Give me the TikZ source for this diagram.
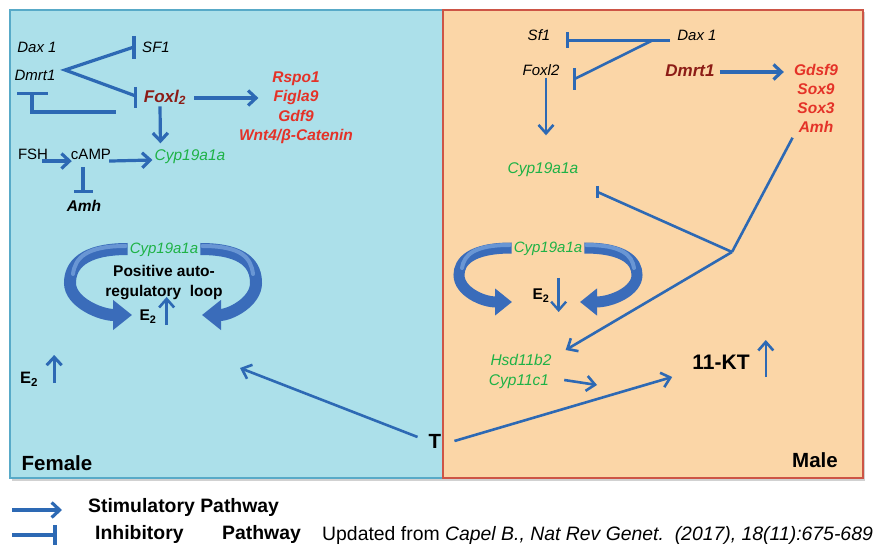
\documentclass[tikz,border=0pt]{standalone}
\usepackage{fontspec}
\setmainfont{Liberation Sans}
\usetikzlibrary{arrows.meta,calc}

\definecolor{femfill}{RGB}{172,224,234}
\definecolor{femline}{RGB}{88,170,200}
\definecolor{malefill}{RGB}{251,214,167}
\definecolor{maleline}{RGB}{205,85,70}
\definecolor{pathblue}{RGB}{45,105,180}
\definecolor{ribboncol}{RGB}{58,108,186}
\definecolor{ribbonlite}{RGB}{105,150,212}
\definecolor{genegreen}{RGB}{30,178,70}
\definecolor{hotred}{RGB}{228,50,40}
\definecolor{deepred}{RGB}{140,28,22}

\begin{document}
\begin{tikzpicture}[x=1pt,y=-1pt,
  every node/.style={inner sep=0pt, text depth=0pt},
  it/.style={font=\fontsize{15}{18}\selectfont\itshape, text height=10.7pt},
  rm/.style={font=\fontsize{15}{18}\selectfont, text height=10.7pt},
  grn/.style={font=\fontsize{15.5}{18}\selectfont\itshape, text=genegreen, text height=11pt},
  hot/.style={font=\fontsize{15.5}{18}\selectfont\bfseries\itshape, text=hotred, text height=11pt},
  deep/.style={font=\fontsize{17}{20}\selectfont\bfseries\itshape, text=deepred, text height=12.2pt},
  bb/.style={font=\fontsize{15.5}{20}\selectfont\bfseries, text height=11pt},
  big/.style={font=\fontsize{20.5}{24}\selectfont\bfseries, text height=14.7pt},
  leg/.style={font=\fontsize{19.4}{22}\selectfont, text height=13.9pt, anchor=west},
  stim/.style={draw=pathblue, line width=3.2pt, -{Straight Barb[length=8pt,width=15pt]}},
  thin/.style={draw=pathblue, line width=2.6pt, -{Straight Barb[length=8.5pt,width=15pt]}},
  plain/.style={draw=pathblue, line width=3.2pt},
  plainthin/.style={draw=pathblue, line width=2.6pt},
  ribbon/.style={draw=ribboncol, line width=12pt, -{Triangle[length=19pt,width=29pt]}},
  ribbonm/.style={draw=ribboncol, line width=11pt, -{Triangle[length=17pt,width=26pt]}},
  sheen/.style={draw=ribbonlite, line width=4pt, line cap=round},
]
\useasboundingbox (0,0) rectangle (878,545);

% panels
\fill[black!18] (12,12) rectangle (865,481);
\path[draw=femline, fill=femfill, line width=1.4pt] (10,10) rectangle (443,478);
\path[draw=maleline, fill=malefill, line width=1.4pt] (443,10) rectangle (863,478);

% ---------------- female side ----------------
\node[it] (dax1f) at (37,47) {Dax 1};
\node[it] (sf1f) at (156,47) {SF1};
\node[it] (dmrt1f) at (35,75) {Dmrt1};
\node[deep] (foxl) at (165,96) {Foxl\textsubscript{2}};
\node[hot] (rspo) at (296,77) {Rspo1};
\node[hot] (figla) at (296,96) {Figla9};
\node[hot] (gdf) at (296,116) {Gdf9};
\node[hot] (wnt) at (296,135) {Wnt4/β-Catenin};
\node[rm] (fsh) at (33,154) {FSH};
\node[rm] (camp) at (91,154) {cAMP};
\node[grn] (cypf) at (190,155) {Cyp19a1a};
\node[bb, font=\fontsize{15.5}{18}\selectfont\bfseries\itshape] (amhf) at (84,206) {Amh};

% Dmrt1 inhibits SF1 and Foxl2
\coordinate (vf) at (65,70);
\coordinate (sfbar) at ($(sf1f.west)+(-8,0)$);
\coordinate (fxbar) at ($(foxl.west)+(-8,0)$);
\draw[plain, line join=miter] (sfbar) -- (vf) -- (fxbar);
\draw[plain] ($(sfbar)+(0,-11)$) -- ($(sfbar)+(0,12)$);
\draw[plain] ($(fxbar)+(0,-9)$) -- ($(fxbar)+(0,12)$);

% Foxl2 inhibits Dmrt1
\coordinate (fxback) at ($(foxl.west)+(-28,16)$);
\coordinate (dmbar) at ($(dmrt1f.south)+(-3,13)$);
\draw[plain, line join=miter] (fxback) -- (fxback -| dmbar) -- (dmbar);
\draw[plain] ($(dmbar)+(-15,0)$) -- ($(dmbar)+(16,0)$);

% Foxl2 targets
\draw[stim] ($(foxl.east)+(8,2)$) -- ($(figla.west)+(-15,2)$);
\draw[stim] ($(foxl.south)+(-5,4)$) -- ($(cypf.north west)+(6,-6)$);

% FSH / cAMP
\draw[stim] ($(fsh.south east)+(-6,1.5)$) -- ($(camp.south west)+(1,1.5)$);
\draw[stim] ($(camp.south east)+(-2,1.5)$) -- ($(cypf.west)+(-2,5)$);
\coordinate (ambar) at ($(amhf.north)+(-1,-8.5)$);
\draw[plain] ($(camp.south)+(-8,7.5)$) -- (ambar);
\draw[plain] ($(ambar)+(-9,0)$) -- ($(ambar)+(10,0)$);

% positive auto-regulatory loop
\node[grn, font=\fontsize{15}{18}\selectfont\itshape] (loopcypf) at (164,248) {Cyp19a1a};
\node[font=\fontsize{15.5}{20}\selectfont\bfseries, align=center, text depth=, text height=] (loopf) at (164,283) {Positive auto-\\regulatory~~loop};
\node[bb] (e2loop) at (148,315) {E\textsubscript{2}};
\draw[ribbon] ($(loopcypf.west)+(-2,1)$) .. controls (82,249) and (70,266) .. (70,283)
  .. controls (70,302) and (100,315) .. (132,315);
\draw[ribbon] ($(loopcypf.east)+(2,1)$) .. controls (246,249) and (256,266) .. (256,283)
  .. controls (256,302) and (230,315) .. (202,315);
\draw[sheen] ($(loopcypf.west)+(-4,-2)$) .. controls (86,246) and (75,258) .. (73,274);
\draw[sheen] ($(loopcypf.east)+(4,-2)$) .. controls (242,246) and (251,258) .. (253,274);
\coordinate (e2up) at ($(e2loop.east)+(10,10)$);
\draw[thin] (e2up) -- ++(0,-28);

% E2 rise
\node[bb, font=\fontsize{16.5}{20}\selectfont\bfseries] (e2f) at (29,378) {E\textsubscript{2}};
\coordinate (e2fup) at ($(e2f.east)+(16,5)$);
\draw[stim, line width=3pt] (e2fup) -- ++(0,-28);

\node[big] (female) at (57,463) {Female};

% ---------------- testosterone ----------------
\node[big] (t) at (435,441) {T};
\coordinate (ftip) at (240,368);
\draw[thin] ($(t.west)+(-11,-4)$) -- (ftip);

% ---------------- male side ----------------
\node[it] (sf1m) at (539,35) {Sf1};
\node[it] (dax1m) at (697,35) {Dax 1};
\node[it] (foxlm) at (541,70) {Foxl2};
\node[deep] (dmrt1m) at (690,70) {Dmrt1};
\node[hot] (gdsf) at (816,70) {Gdsf9};
\node[hot] (sox9) at (816,89) {Sox9};
\node[hot] (sox3) at (816,108) {Sox3};
\node[hot] (amhm) at (816,127) {Amh};
\node[grn] (cypm) at (543,168) {Cyp19a1a};

% Dax1 inhibits Sf1 and Foxl2
\coordinate (daxs) at ($(dax1m.west)+(-7,5.5)$);
\coordinate (sfmbar) at ($(sf1m.east)+(17,5.5)$);
\draw[plainthin] (daxs) -- (sfmbar);
\draw[plainthin] ($(sfmbar)+(0,-8)$) -- ($(sfmbar)+(0,8)$);
\coordinate (daxbr) at ($(daxs)+(-18,0)$);
\coordinate (fxmbar) at ($(foxlm.east)+(15,9)$);
\draw[plainthin] (daxbr) -- (fxmbar);
\draw[plainthin] ($(fxmbar)+(0,-11)$) -- ($(fxmbar)+(0,11)$);

\draw[thin] ($(foxlm.south)+(5,2)$) -- ($(cypm.north)+(3,-27)$);
\draw[stim] ($(dmrt1m.east)+(5,2)$) -- ($(gdsf.west)+(-10,2)$);

% Amh branch
\coordinate (junc) at (732,252);
\node[grn] (hsd) at (521,360) {Hsd11b2};
\node[grn] (cyp11) at (519,380) {Cyp11c1};
\draw[plainthin] ($(amhm.south west)+(-6,5)$) -- (junc);
\coordinate (cypmbar) at ($(cypm.east)+(19,24)$);
\draw[plainthin] (junc) -- (cypmbar);
\draw[plainthin] ($(cypmbar)+(0,-6)$) -- ($(cypmbar)+(0,6)$);
\draw[thin] (junc) -- ($(hsd.east)+(14,-10)$);
\coordinate (cyptip) at (597,385);
\draw[thin] ($(cyp11.east)+(15,0)$) -- (cyptip);

% male loop
\node[grn, font=\fontsize{15}{18}\selectfont\itshape] (loopcypm) at (548,247) {Cyp19a1a};
\node[bb] (e2m) at (541,294) {E\textsubscript{2}};
\draw[ribbonm] ($(loopcypm.west)+(-2,1)$) .. controls (470,248) and (459,262) .. (459,275)
  .. controls (459,291) and (482,302) .. (512,302);
\draw[ribbonm] ($(loopcypm.east)+(2,1)$) .. controls (626,248) and (637,262) .. (637,275)
  .. controls (637,291) and (612,302) .. (580,302);
\draw[sheen] ($(loopcypm.west)+(-4,-2)$) .. controls (474,245) and (464,255) .. (462,268);
\draw[sheen] ($(loopcypm.east)+(4,-2)$) .. controls (622,245) and (632,255) .. (634,268);
\draw[thin, line width=2.4pt] ($(e2m.east)+(9,-16)$) -- ++(0,34);

% 11-KT
\node[big, font=\fontsize{21}{24}\selectfont\bfseries] (kt) at (721,362) {11-KT};
\draw[thin] ($(t.east)+(13,0)$) -- ($(kt.west)+(-20,15)$);
\draw[thin] ($(kt.east)+(16,15)$) -- ++(0,-37);

\node[big] (male) at (815,460) {Male};

% ---------------- legend ----------------
\coordinate (lgs) at (12,510);
\coordinate (lgi) at (12,535);
\node[leg, font=\fontsize{19.4}{22}\selectfont\bfseries] (stimtxt) at (88,506) {Stimulatory Pathway};
\node[leg, font=\fontsize{19.4}{22}\selectfont\bfseries] (inhtxt) at (95,533) {Inhibitory};
\node[leg, font=\fontsize{19.4}{22}\selectfont\bfseries] (pathtxt) at (222,533) {Pathway};
\node[leg] (cite) at (322,534) {Updated from \textit{Capel B., Nat Rev Genet.\ \ (2017), 18(11):675-689}};
\draw[stim] (lgs) -- ($(lgs)+(50,0)$);
\coordinate (lgbar) at ($(lgi)+(43,0)$);
\draw[plain] (lgi) -- (lgbar);
\draw[plain] ($(lgbar)+(0,-10)$) -- ($(lgbar)+(0,10)$);
\end{tikzpicture}
\end{document}
